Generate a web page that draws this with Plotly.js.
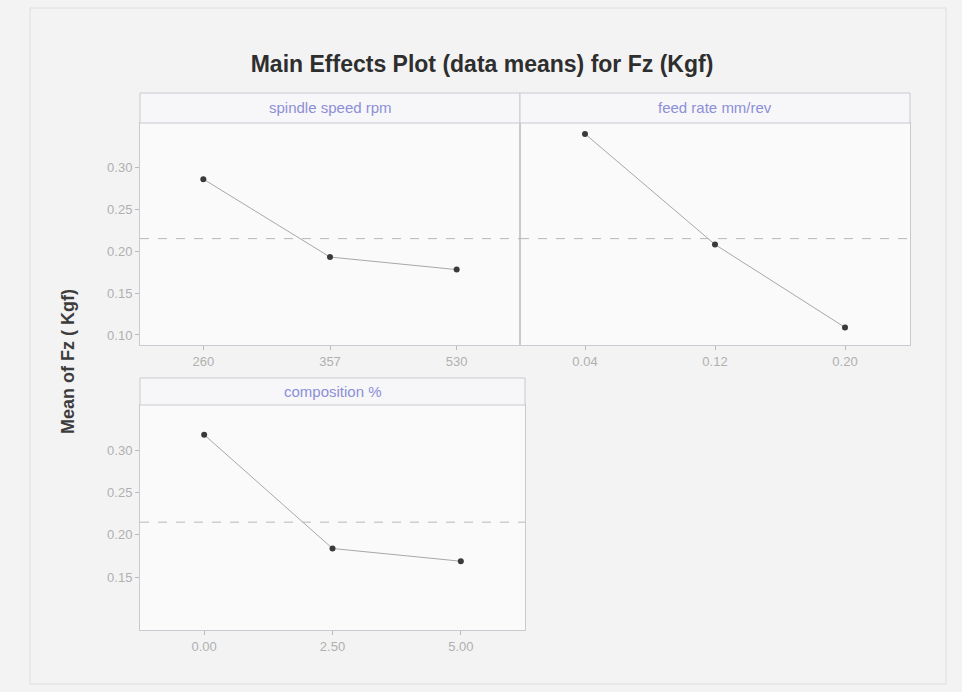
<!DOCTYPE html>
<html>
<head>
<meta charset="utf-8">
<script src="https://cdn.plot.ly/plotly-3.0.1.min.js"></script>
<style>html,body{margin:0;padding:0;background:#f3f3f3;}#chart{width:962px;height:692px;}</style>
</head>
<body>
<div id="chart"></div>
<script>
// ---- data ----
const panelTitles = ['spindle speed rpm', 'feed rate mm/rev', 'composition %'];
const speedLabels = ['260', '357', '530'];
const speedMeans = [0.286, 0.193, 0.178];
const feedLabels = ['0.04', '0.12', '0.20'];
const feedMeans = [0.340, 0.208, 0.109];
const compLabels = ['0.00', '2.50', '5.00'];
const compMeans = [0.318, 0.184, 0.169];
const grandMean = 0.215;
const yTickVals = [0.10, 0.15, 0.20, 0.25, 0.30];
const yTickText = ['0.10', '0.15', '0.20', '0.25', '0.30'];
const yTickValsBottom = [0.15, 0.20, 0.25, 0.30];
const yTickTextBottom = ['0.15', '0.20', '0.25', '0.30'];

// ---- layout helpers (pixel -> paper) ----
const W = 962, H = 692;
const px = v => v / W;
const py = v => 1 - v / H;

const lineCol = '#a8a8a8';
const markCol = '#3a3a3a';
const frameCol = '#c9c9cf';
const tickFont = {family: 'Arial, Liberation Sans, sans-serif', size: 13, color: '#b0b0b0'};

// level index for each factor level (ordinal position on the axis)
const levelIdx = labels => labels.map((_, i) => i);

function trace(labels, means, xa, ya) {
  return {
    x: levelIdx(labels), y: means, xaxis: xa, yaxis: ya, type: 'scatter', mode: 'lines+markers',
    line: {color: lineCol, width: 1}, marker: {color: markCol, size: 6, symbol: 'circle'},
    text: labels, hoverinfo: 'text+y', showlegend: false
  };
}

const data = [
  trace(speedLabels, speedMeans, 'x', 'y'),
  trace(feedLabels, feedMeans, 'x2', 'y2'),
  trace(compLabels, compMeans, 'x3', 'y3')
];

function xaxis(dom, labels, anchor) {
  return {
    domain: dom, anchor: anchor, type: 'linear',
    tickmode: 'array', tickvals: levelIdx(labels), ticktext: labels,
    range: [-0.5, labels.length - 0.5], showgrid: false, zeroline: false,
    showline: true, mirror: true, linecolor: frameCol, linewidth: 1,
    ticks: 'outside', ticklen: 4, tickcolor: '#bbbbbb', tickfont: tickFont
  };
}
function yaxis(dom, anchor, vals, texts, showLabels) {
  return {
    domain: dom, anchor: anchor, range: [0.088, 0.353], showgrid: false, zeroline: false,
    showline: true, mirror: true, linecolor: frameCol, linewidth: 1,
    tickmode: 'array', tickvals: vals, ticktext: texts, showticklabels: showLabels,
    ticks: showLabels ? 'outside' : '', ticklen: 4, tickcolor: '#bbbbbb', tickfont: tickFont
  };
}

const topDom = [py(345), py(123)];
const botDom = [py(630), py(405)];
const p1x = [px(140), px(520)];
const p2x = [px(520), px(910)];
const p3x = [px(140), px(525)];

const shapes = [
  // photo frame
  {type: 'rect', xref: 'paper', yref: 'paper', x0: px(30), x1: px(946), y0: py(684), y1: py(8),
   line: {color: '#dedede', width: 1}, fillcolor: 'rgba(0,0,0,0)', layer: 'below'},
  // strips
  {type: 'rect', xref: 'paper', yref: 'paper', x0: p1x[0], x1: p1x[1], y0: py(123), y1: py(93),
   line: {color: frameCol, width: 1}, fillcolor: '#f7f7fa'},
  {type: 'rect', xref: 'paper', yref: 'paper', x0: p2x[0], x1: p2x[1], y0: py(123), y1: py(93),
   line: {color: frameCol, width: 1}, fillcolor: '#f7f7fa'},
  {type: 'rect', xref: 'paper', yref: 'paper', x0: p3x[0], x1: p3x[1], y0: py(405), y1: py(378),
   line: {color: frameCol, width: 1}, fillcolor: '#f7f7fa'},
  // grand mean reference lines
  {type: 'line', xref: 'x domain', yref: 'y', x0: 0, x1: 1, y0: grandMean, y1: grandMean,
   line: {color: '#b8b8b8', width: 1, dash: 'dash'}},
  {type: 'line', xref: 'x2 domain', yref: 'y2', x0: 0, x1: 1, y0: grandMean, y1: grandMean,
   line: {color: '#b8b8b8', width: 1, dash: 'dash'}},
  {type: 'line', xref: 'x3 domain', yref: 'y3', x0: 0, x1: 1, y0: grandMean, y1: grandMean,
   line: {color: '#b8b8b8', width: 1, dash: 'dash'}}
];

const stripFont = {family: 'Arial, Liberation Sans, sans-serif', size: 15, color: '#8c8fd6'};
const annotations = [
  {text: panelTitles[0], xref: 'paper', yref: 'paper', x: (p1x[0] + p1x[1]) / 2, y: py(108),
   showarrow: false, font: stripFont, xanchor: 'center', yanchor: 'middle'},
  {text: panelTitles[1], xref: 'paper', yref: 'paper', x: (p2x[0] + p2x[1]) / 2, y: py(108),
   showarrow: false, font: stripFont, xanchor: 'center', yanchor: 'middle'},
  {text: panelTitles[2], xref: 'paper', yref: 'paper', x: (p3x[0] + p3x[1]) / 2, y: py(391),
   showarrow: false, font: stripFont, xanchor: 'center', yanchor: 'middle'},
  {text: '<b>Mean of Fz ( Kgf)</b>', xref: 'paper', yref: 'paper', x: px(68), y: py(362),
   textangle: -90, showarrow: false, xanchor: 'center', yanchor: 'middle',
   font: {family: 'Arial, Liberation Sans, sans-serif', size: 18, color: '#3c3c3c'}}
];

const layout = {
  width: W, height: H,
  margin: {l: 0, r: 0, t: 0, b: 0},
  paper_bgcolor: '#f3f3f3', plot_bgcolor: '#fafafa',
  title: {text: '<b>Main Effects Plot (data means) for Fz (Kgf)</b>', x: px(482), xanchor: 'center',
          y: py(64), yanchor: 'middle',
          font: {family: 'Arial, Liberation Sans, sans-serif', size: 23, color: '#2e2e2e'}},
  xaxis: xaxis(p1x, speedLabels, 'y'),
  yaxis: yaxis(topDom, 'x', yTickVals, yTickText, true),
  xaxis2: xaxis(p2x, feedLabels, 'y2'),
  yaxis2: yaxis(topDom, 'x2', yTickVals, yTickText, false),
  xaxis3: xaxis(p3x, compLabels, 'y3'),
  yaxis3: yaxis(botDom, 'x3', yTickValsBottom, yTickTextBottom, true),
  shapes: shapes,
  annotations: annotations,
  showlegend: false
};

Plotly.newPlot('chart', data, layout, {displayModeBar: false, staticPlot: true});
</script>
</body>
</html>
